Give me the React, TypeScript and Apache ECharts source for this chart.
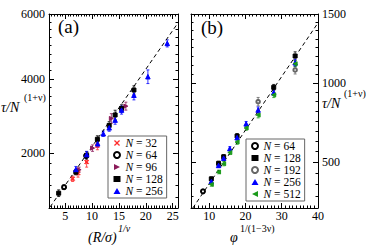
import React, { useEffect, useRef } from "react";
import * as echarts from "echarts";

// power scale used by both vertical axes
const P = 0.75;
const tf = (v: number) => Math.pow(v, P);
const itf = (t: number) => Math.pow(t, 1 / P);

// ---------- panel (a) ----------
const aXMajor = [5, 10, 15, 20, 25];
const aYMajor = [2000, 4000, 6000];
// [x, y, err]
const a32 = [[6.4, 1393, 60], [7.4, 1520, 90], [9.0, 1780, 120], [11.0, 2180, 100]];
const a64 = [[4.8, 1208, 50], [8.9, 1930, 60]];
const a96 = [[7.6, 1600, 60], [10.1, 2120, 80], [13.6, 2890, 130], [16.3, 3226, 110]];
const a128 = [[3.8, 1080, 70], [7.0, 1543, 60], [9.0, 1940, 90], [11.0, 2343, 90], [13.2, 2704, 100], [14.3, 2983, 130], [15.5, 3163, 100], [17.8, 3680, 120]];
const a256 = [[7.0, 1606, 70], [9.0, 1960, 80], [11.05, 2229, 80], [12.1, 2487, 70], [13.2, 2640, 90], [14.3, 2845, 110], [15.5, 3117, 110], [17.8, 3530, 130], [20.4, 4065, 200], [24.0, 5070, 110]];
const aFit = [[2.2, 800], [26, 5715]];

// ---------- panel (b) ----------
const bXMajor = [10, 20, 30, 40];
const bYMajor = [500, 1000, 1500];
const b64 = [[8.3, 338, 8]];
const b128 = [[10.6, 405, 10], [12.6, 492, 12], [14.0, 530, 12], [17.7, 655, 15], [27.8, 971, 20], [33.7, 1190, 30]];
const b192 = [[23.5, 875, 28], [33.7, 1091, 28]];
const b256 = [[10.6, 390, 10], [12.6, 480, 12], [14.0, 522, 12], [15.7, 578, 12], [17.7, 645, 14], [20.2, 731, 15], [23.5, 820, 20], [27.8, 935, 20], [33.7, 1142, 25]];
const b512 = [[10.6, 375, 10], [12.6, 443, 10], [14.0, 490, 12], [15.7, 555, 12], [17.7, 618, 14], [20.2, 705, 15], [23.5, 787, 18], [27.8, 920, 18], [33.7, 1135, 22]];
const bFit = [[5.5, 254], [40, 1433]];

const FONT = "Liberation Serif";

function range(a: number, b: number, step: number) {
  const out: number[] = [];
  for (let v = a; v <= b + 1e-9; v += step) out.push(+v.toFixed(6));
  return out;
}

export default function App() {
  const ref = useRef<HTMLDivElement>(null);
  useEffect(() => {
    const chart = echarts.init(ref.current!, null, { renderer: "svg" });

    const grids = [
      { left: 49, right: 188, top: 14, bottom: 37 },
      { left: 191, right: 48, top: 14, bottom: 37 },
    ];
    const panels = [
      { xmin: 2, xmax: 26, xMaj: aXMajor, xMin: range(2, 26, 0.5), ymin: 780, ymax: 6000, yMaj: aYMajor, yMinStep: 250, labelSide: "left" },
      { xmin: 5, xmax: 40, xMaj: bXMajor, xMin: range(5, 40, 1), ymin: 254, ymax: 1500, yMaj: bYMajor, yMinStep: 62.5, labelSide: "right" },
    ];

    const axisBase = (gridIndex: number, position: string, min: number, max: number, ticks: number[], len: number, line: boolean, labels: number[] | null, fmt?: (v: number) => string, offset = 0) => ({
      type: "value",
      gridIndex,
      position,
      min,
      max,
      offset,
      axisLine: { show: line, onZero: false, lineStyle: { color: "#000", width: 1 } },
      axisTick: { show: true, inside: true, length: len, customValues: ticks, lineStyle: { color: "#000", width: 1 } },
      axisLabel: labels
        ? { show: true, customValues: labels, formatter: fmt, fontFamily: FONT, fontSize: 12, lineHeight: 12, color: "#000", margin: position === "bottom" ? 2 : 4 }
        : { show: false },
      splitLine: { show: false },
      minorTick: { show: false },
    });

    const xAxis: any[] = [];
    const yAxis: any[] = [];
    panels.forEach((p, g) => {
      xAxis.push(axisBase(g, "bottom", p.xmin, p.xmax, p.xMaj, 5, true, p.xMaj, (v: number) => String(v)));
      xAxis.push(axisBase(g, "bottom", p.xmin, p.xmax, p.xMin, 2.5, false, null));
      xAxis.push(axisBase(g, "top", p.xmin, p.xmax, p.xMaj, 5, true, null));
      xAxis.push(axisBase(g, "top", p.xmin, p.xmax, p.xMin, 2.5, false, null));
      const tmin = tf(p.ymin), tmax = tf(p.ymax);
      const majT = p.yMaj.map(tf);
      const minT = range(Math.ceil(p.ymin / p.yMinStep) * p.yMinStep, p.ymax, p.yMinStep).map(tf);
      const fmt = (v: number) => String(Math.round(itf(v)));
      yAxis.push(axisBase(g, "left", tmin, tmax, majT, 5, true, p.labelSide === "left" ? majT : null, fmt));
      yAxis.push(axisBase(g, "left", tmin, tmax, minT, 2.5, false, null));
      yAxis.push(axisBase(g, "right", tmin, tmax, majT, 5, true, p.labelSide === "right" ? majT : null, fmt));
      yAxis.push(axisBase(g, "right", tmin, tmax, minT, 2.5, false, null));
    });

    const XSYM = "path://M0,1.5L1.5,0L5,3.5L8.5,0L10,1.5L6.5,5L10,8.5L8.5,10L5,6.5L1.5,10L0,8.5L3.5,5Z";
    const RTRI = "path://M0,0L10,5L0,10Z";
    const LTRI = "path://M10,0L0,5L10,10Z";

    const groups = [
      { name: "a:32", panel: 0, data: a32, symbol: XSYM, size: 4, color: "#ff2a2a" },
      { name: "a:64", panel: 0, data: a64, symbol: "emptyCircle", size: 4, color: "#000" },
      { name: "a:96", panel: 0, data: a96, symbol: RTRI, size: 4, color: "#8b1a5a" },
      { name: "a:128", panel: 0, data: a128, symbol: "rect", size: 4, color: "#000" },
      { name: "a:256", panel: 0, data: a256, symbol: "triangle", size: 4.5, color: "#0000ff" },
      { name: "b:64", panel: 1, data: b64, symbol: "emptyCircle", size: 4, color: "#000" },
      { name: "b:128", panel: 1, data: b128, symbol: "rect", size: 4, color: "#000" },
      { name: "b:192", panel: 1, data: b192, symbol: "emptyCircle", size: 3.5, color: "#666" },
      { name: "b:256", panel: 1, data: b256, symbol: "triangle", size: 4.5, color: "#0000ff" },
      { name: "b:512", panel: 1, data: b512, symbol: LTRI, size: 4, color: "#1a9a1a" },
    ];

    const series: any[] = [];
    groups.forEach((s) => {
      const xi = s.panel * 4, yi = s.panel * 4;
      series.push({
        type: "custom",
        name: s.name + "-err",
        xAxisIndex: xi,
        yAxisIndex: yi,
        silent: true,
        z: 1,
        data: s.data.map((d) => [d[0], tf(d[1] - d[2]), tf(d[1] + d[2])]),
        encode: { x: 0, y: [1, 2] },
        renderItem: (params: any, api: any) => {
          const x = api.value(0);
          const lo = api.coord([x, api.value(1)]);
          const hi = api.coord([x, api.value(2)]);
          const st = { stroke: s.color, lineWidth: 0.8 };
          return {
            type: "group",
            children: [
              { type: "line", shape: { x1: lo[0], y1: lo[1], x2: hi[0], y2: hi[1] }, style: st },
              { type: "line", shape: { x1: lo[0] - 1.5, y1: lo[1], x2: lo[0] + 1.5, y2: lo[1] }, style: st },
              { type: "line", shape: { x1: hi[0] - 1.5, y1: hi[1], x2: hi[0] + 1.5, y2: hi[1] }, style: st },
            ],
          };
        },
      });
      series.push({
        type: "scatter",
        name: s.name,
        xAxisIndex: xi,
        yAxisIndex: yi,
        z: 3,
        symbol: s.symbol,
        symbolSize: s.size,
        itemStyle: { color: s.color, borderColor: s.color, opacity: 1 },
        data: s.data.map((d) => [d[0], tf(d[1])]),
      });
    });

    [aFit, bFit].forEach((f, g) => {
      series.push({
        type: "line",
        xAxisIndex: g * 4,
        yAxisIndex: g * 4,
        silent: true,
        showSymbol: false,
        symbol: "none",
        z: 2,
        lineStyle: { color: "#000", width: 1, type: [4, 3] },
        data: f.map((d) => [d[0], tf(d[1])]),
      });
    });

    const legendBase = (names: string[], left: number, top: number) => ({
      data: names,
      orient: "vertical",
      left,
      top,
      itemWidth: 7,
      itemHeight: 6,
      itemGap: 0,
      padding: [1, 4, 1, 5],
      borderColor: "#666",
      borderWidth: 1,
      backgroundColor: "#fff",
      selectedMode: false,
      formatter: (n: string) => `{i|N} = ${n.split(":")[1]}`,
      textStyle: {
        fontFamily: FONT,
        fontSize: 11.5,
        color: "#000",
        lineHeight: 12,
        rich: { i: { fontStyle: "italic", fontFamily: FONT, fontSize: 11.5, lineHeight: 12, color: "#000" } },
      },
    });

    const txt = (text: string, x: number, y: number, size: number, italic = false, align = "left") => ({
      type: "text",
      x,
      y,
      z: 10,
      style: {
        text,
        fill: "#000",
        fontFamily: FONT,
        fontSize: size,
        fontStyle: italic ? "italic" : "normal",
        align,
        verticalAlign: "middle",
        textAlign: align,
        textVerticalAlign: "middle",
      },
    });

    chart.setOption({
      animation: false,
      backgroundColor: "#fff",
      grid: grids,
      xAxis,
      yAxis,
      series,
      legend: [
        legendBase(["a:32", "a:64", "a:96", "a:128", "a:256"], 108, 136),
        legendBase(["b:64", "b:128", "b:192", "b:256", "b:512"], 246, 139),
      ],
      graphic: [
        txt("(a)", 58, 26, 19),
        txt("(b)", 201, 27, 19),
        // y titles
        txt("τ/N", 1, 107, 14, true),
        txt("(1+ν)", 24, 97, 10),
        txt("τ/N", 322, 103, 14, true),
        txt("(1+ν)", 344, 93, 10),
        // x titles
        txt("(R/σ)", 88, 237, 14, true),
        txt("1/ν", 118, 228, 10, true),
        txt("φ", 230, 237, 14, true),
        txt("1/(1−3ν)", 240, 228, 10),
      ],
    });
    return () => chart.dispose();
  }, []);
  return <div ref={ref} style={{ width: 366, height: 245, position: "absolute", left: 0, top: 0 }} />;
}
